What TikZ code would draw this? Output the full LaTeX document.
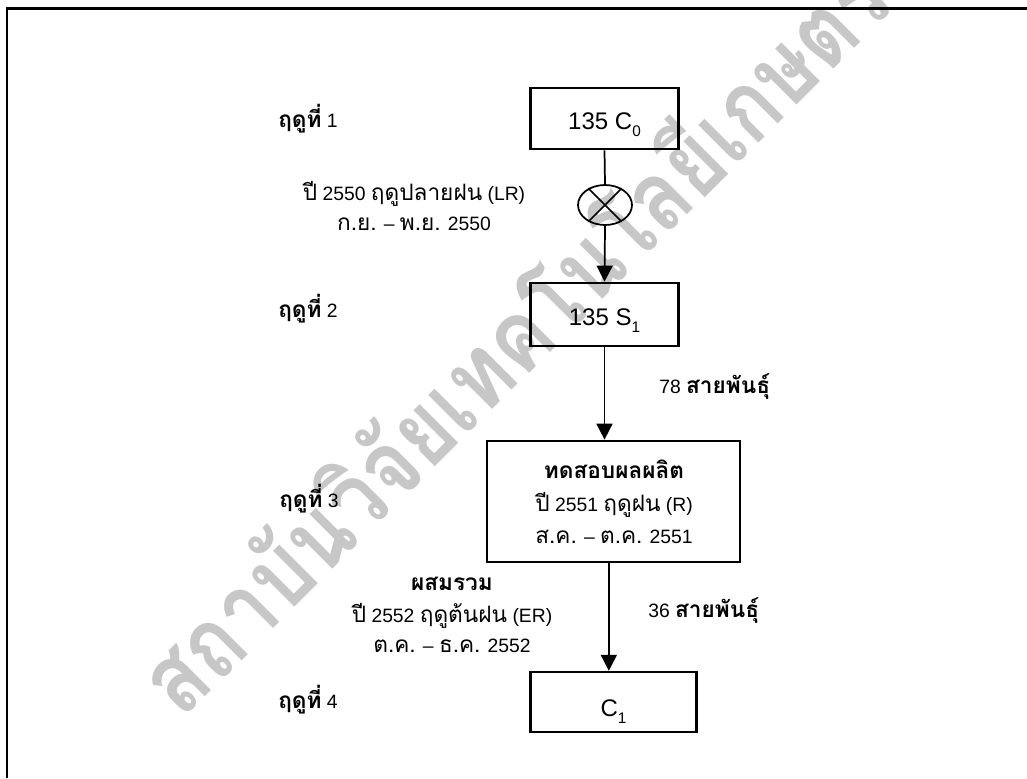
\documentclass[tikz,border=0pt]{standalone}
\usepackage{fontspec}
\setmainfont{Liberation Sans}
\newfontfamily\thaifont[Script=Thai,Scale=1.17]{Loma}
\usetikzlibrary{arrows.meta,shapes.geometric,positioning}

\newcommand{\thn}[1]{{\thaifont #1}}
\newcommand{\thb}[1]{{\thaifont\bfseries #1}}
\newcommand{\lowsub}[1]{\raisebox{-0.3em}{\fontsize{11.5}{12}\selectfont #1}}

\tikzset{
  stagebox/.style={draw, line width=1.8pt, inner sep=0pt, text height=16pt, text depth=0pt,
    font=\fontsize{18}{21}\selectfont},
  lbl/.style={inner sep=0pt, font=\fontsize{14.5}{17}\selectfont},
  flow/.style={line width=1.3pt, -{Triangle[width=12pt,length=12pt]}},
  wmark/.style={text=black!22, inner sep=0pt, rotate=45, xscale=0.84,
    font=\thaifont\bfseries\fontsize{63}{63}\selectfont}
}

\begin{document}
\begin{tikzpicture}[x=0.75pt, y=-0.75pt]
\useasboundingbox (0,0) rectangle (1027,778);

% watermark
\node[wmark] (wm) at (510,334) {สถาบันวิจัยเทคโนโลยีเกษตร};

% frame
\draw[line width=2.2pt] (1027,8.5) -- (7,8.5) -- (7,778);

% stages
\node[stagebox, minimum width=111pt, minimum height=46pt] (c0) at (604.5,118.5) {135 C\lowsub{0}};
\node[draw, ellipse, line width=1.3pt, minimum width=40.5pt, minimum height=30pt, inner sep=0pt] (cross) at (605,205) {};
\node[stagebox, minimum width=111pt, minimum height=47.5pt] (s1) at (604.5,314.5) {135 S\lowsub{1}};
\node[stagebox, minimum width=190pt, minimum height=91pt] (t) at (613.5,501.5) {};
\node[stagebox, minimum width=124.5pt, minimum height=45pt, text height=22pt] (c1) at (613.5,702) {C\lowsub{1}};

\draw[line width=1.3pt] (cross.45) -- (cross.225) (cross.135) -- (cross.315);

% connectors
\draw[line width=1.3pt] (c0.south) -- (cross.north);
\draw[flow] (cross.south) -- (s1.north);
\draw[flow] (s1.south) -- (s1.south |- t.north);
\draw[flow] ([xshift=-3.5pt]t.south) -- ([xshift=-3.5pt]t.south |- c1.north);

% season labels
\node[lbl, anchor=base west] (st1) at (278,127) {\thb{ฤดูที่} 1};
\node[lbl, anchor=base west] (st2) at (278,317) {\thb{ฤดูที่} 2};
\node[lbl, anchor=base west] (st3) at (279,507) {\thb{ฤดูที่} 3};
\node[lbl, anchor=base west] (st4) at (278,708) {\thb{ฤดูที่} 4};

% cross
\node[lbl, anchor=base] (cr1) at (414,200) {\thn{ปี} 2550 \thn{ฤดูปลายฝน} (LR)};
\node[lbl, anchor=base] (cr2) at (414,230) {\thn{ก.ย.} – \thn{พ.ย.} 2550};

% test
\node[lbl, anchor=base west] (n78) at (659,393) {78 \thb{สายพันธุ์}};
\node[lbl, anchor=base] (t1) at (614,478) {\thb{ทดสอบผลผลิต}};
\node[lbl, anchor=base] (t2) at (614,511) {\thn{ปี} 2551 \thn{ฤดูฝน} (R)};
\node[lbl, anchor=base] (t3) at (614,543) {\thn{ส.ค.} – \thn{ต.ค.} 2551};

% mix
\node[lbl, anchor=base] (m1) at (452,590) {\thb{ผสมรวม}};
\node[lbl, anchor=base] (m2) at (452,622) {\thn{ปี} 2552 \thn{ฤดูต้นฝน} (ER)};
\node[lbl, anchor=base] (m3) at (452,652) {\thn{ต.ค.} – \thn{ธ.ค.} 2552};
\node[lbl, anchor=base west] (n36) at (648,617) {36 \thb{สายพันธุ์}};
\end{tikzpicture}
\end{document}
